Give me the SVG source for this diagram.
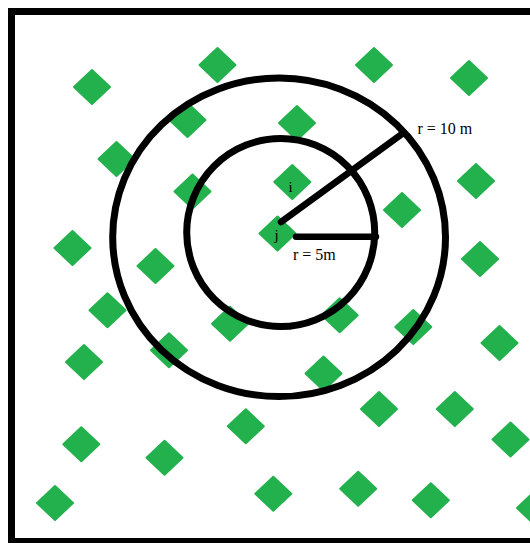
<svg xmlns="http://www.w3.org/2000/svg" xmlns:xlink="http://www.w3.org/1999/xlink" width="530" height="543" viewBox="0 0 530 543">
<style>
.dm{fill:#22B14C;stroke:#22B14C;stroke-width:2;stroke-linejoin:round}
.ring{fill:none;stroke:#000;stroke-width:7}
.rad{stroke:#000;stroke-width:6.5;stroke-linecap:round}
.lbl{font-family:"Liberation Serif","Times New Roman",serif;font-size:16px;fill:#000}
.nl{font-family:"Liberation Serif","Times New Roman",serif;font-size:15px;fill:#000}
</style>
<defs>
<polygon id="d" class="dm" points="0,-17 18,0 0,17 -18,0"/>
</defs>
<rect x="0" y="0" width="530" height="543" fill="#fff"/>
<rect x="11.5" y="11.5" width="540" height="530" fill="none" stroke="#000" stroke-width="7"/>
<g id="nodes">
<g id="n1"><use xlink:href="#d" x="92" y="87"/></g>
<g id="n2"><use xlink:href="#d" x="217.5" y="65"/></g>
<g id="n3"><use xlink:href="#d" x="374" y="65"/></g>
<g id="n4"><use xlink:href="#d" x="469" y="78"/></g>
<g id="n5"><use xlink:href="#d" x="187.5" y="120"/></g>
<g id="n6"><use xlink:href="#d" x="297" y="123"/></g>
<g id="n7"><use xlink:href="#d" x="116.5" y="159"/></g>
<g id="n8"><use xlink:href="#d" x="192.5" y="191.5"/></g>
<g id="node-i"><use xlink:href="#d" x="292.3" y="182"/><text class="nl" x="288.5" y="192">i</text></g>
<g id="n10"><use xlink:href="#d" x="402" y="210"/></g>
<g id="n11"><use xlink:href="#d" x="476" y="181"/></g>
<g id="n12"><use xlink:href="#d" x="72.5" y="248"/></g>
<g id="n13"><use xlink:href="#d" x="155.5" y="266"/></g>
<g id="n15"><use xlink:href="#d" x="480" y="259"/></g>
<g id="n16"><use xlink:href="#d" x="107.5" y="310.3"/></g>
<g id="n17"><use xlink:href="#d" x="230" y="323.7"/></g>
<g id="n18"><use xlink:href="#d" x="339.7" y="315.3"/></g>
<g id="n19"><use xlink:href="#d" x="413.3" y="327"/></g>
<g id="n20"><use xlink:href="#d" x="499.5" y="343"/></g>
<g id="n21"><use xlink:href="#d" x="84" y="362"/></g>
<g id="n22"><use xlink:href="#d" x="169" y="350.3"/></g>
<g id="n23"><use xlink:href="#d" x="323.5" y="373.5"/></g>
<g id="n24"><use xlink:href="#d" x="379" y="409"/></g>
<g id="n25"><use xlink:href="#d" x="454.8" y="409"/></g>
<g id="n26"><use xlink:href="#d" x="245.8" y="426.3"/></g>
<g id="n27"><use xlink:href="#d" x="81.3" y="444.3"/></g>
<g id="n28"><use xlink:href="#d" x="164.5" y="457.7"/></g>
<g id="n29"><use xlink:href="#d" x="510.5" y="439.5"/></g>
<g id="n30"><use xlink:href="#d" x="55" y="503"/></g>
<g id="n31"><use xlink:href="#d" x="273.3" y="493.7"/></g>
<g id="n32"><use xlink:href="#d" x="358.2" y="488.7"/></g>
<g id="n33"><use xlink:href="#d" x="430.8" y="500.3"/></g>
<g id="n34"><use xlink:href="#d" x="535" y="508"/></g>
<g id="node-j"><use xlink:href="#d" x="277.5" y="233.5"/></g>
</g>
<g id="rings">
<ellipse class="ring" cx="279.1" cy="237.3" rx="166.4" ry="159.3"/>
<circle class="ring" cx="280.7" cy="232.5" r="94"/>
</g>
<g id="connectors">
<line class="rad" x1="281" y1="222" x2="404" y2="132.5"/>
<line class="rad" x1="296" y1="236.7" x2="376" y2="236.7" stroke-linecap="butt"/>
</g>
<g id="labels">
<text class="nl" x="274.5" y="240">j</text>
<text class="lbl" x="417.5" y="133.5">r = 10 m</text>
<text class="lbl" x="293" y="260">r = 5m</text>
</g>
</svg>
